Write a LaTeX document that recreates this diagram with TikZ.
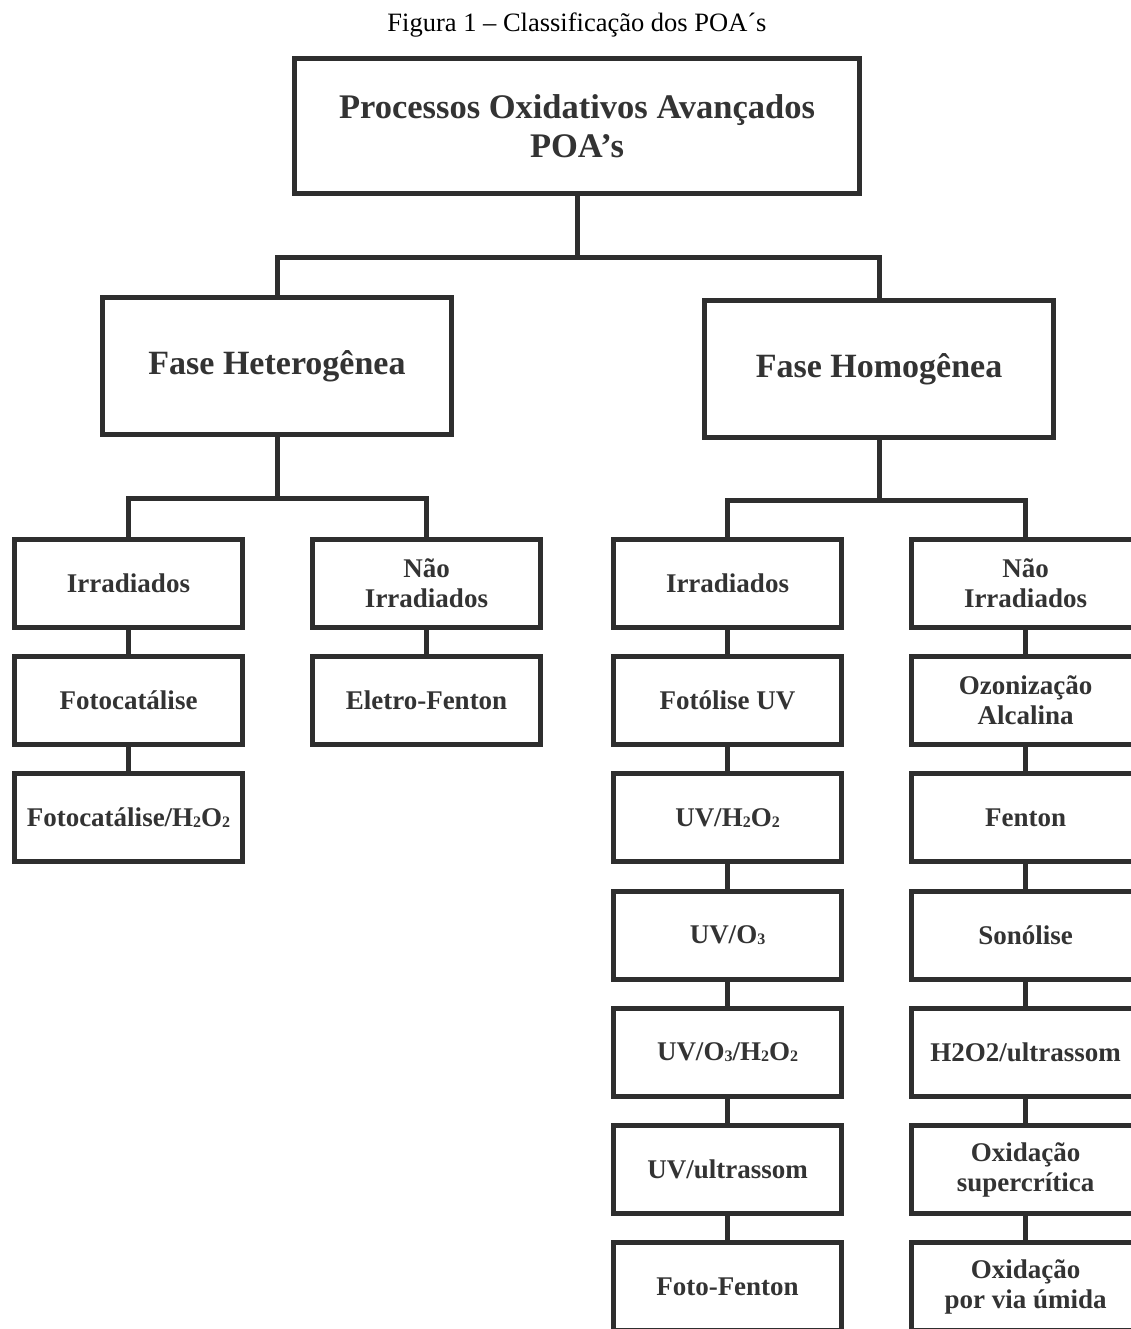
\documentclass[tikz,border=0pt]{standalone}
\usepackage{fontspec}
\setmainfont{Liberation Serif}
\definecolor{linegray}{HTML}{2E2E2E}
\definecolor{textgray}{HTML}{333333}
\newcommand{\idx}[1]{\raisebox{-1pt}{\fontsize{16}{16}\selectfont #1}}
\tikzset{
  box/.style={draw=linegray, line width=5pt, fill=white, align=center,
    text=textgray, inner sep=0pt, minimum width=228pt, minimum height=88pt,
    font=\bfseries\fontsize{27}{30}\selectfont},
  bigbox/.style={box, minimum width=349pt, minimum height=137pt,
    font=\bfseries\fontsize{34}{38}\selectfont},
  conn/.style={draw=linegray, line width=5pt}
}
\begin{document}
\begin{tikzpicture}[x=1pt, y=-1pt]
  \useasboundingbox (0,0) rectangle (1131,1329);
  \clip (0,0) rectangle (1131,1329);

  \node[text=black, font=\fontsize{26.5}{30}\selectfont] (caption) at (577,25) {Figura 1 -- Classificação dos POA´s};

  % top level
  \node[box, minimum width=565pt, minimum height=135pt,
        font=\bfseries\fontsize{34.5}{39}\selectfont] (poa) at (577,126)
        {Processos Oxidativos Avançados\\POA’s};
  \node[bigbox] (het) at (277,366) {Fase Heterogênea};
  \node[bigbox] (hom) at (879,369) {Fase Homogênea};

  % fase heterogenea
  \node[box] (hetirr)  at (128.5,583.5) {Irradiados};
  \node[box] (hetfoto) at (128.5,700.7) {Fotocatálise};
  \node[box] (hetfh)   at (128.5,817.9) {Fotocatálise/H\idx{2}O\idx{2}};
  \node[box] (hetnao)  at (426.5,583.5) {Não\\Irradiados};
  \node[box] (hetelet) at (426.5,700.7) {Eletro-Fenton};

  % fase homogenea, irradiados
  \node[box] (homirr) at (727.5,583.5)  {Irradiados};
  \node[box] (uv)     at (727.5,700.7)  {Fotólise UV};
  \node[box] (uvh)    at (727.5,817.9)  {UV/H\idx{2}O\idx{2}};
  \node[box] (uvo)    at (727.5,935.1)  {UV/O\idx{3}};
  \node[box] (uvoh)   at (727.5,1052.3) {UV/O\idx{3}/H\idx{2}O\idx{2}};
  \node[box] (uvus)   at (727.5,1169.5) {UV/ultrassom};
  \node[box] (fotofe) at (727.5,1286.7) {Foto-Fenton};

  % fase homogenea, nao irradiados
  \node[box] (homnao) at (1025.5,583.5)  {Não\\Irradiados};
  \node[box] (ozon)   at (1025.5,700.7)  {Ozonização\\Alcalina};
  \node[box] (fenton) at (1025.5,817.9)  {Fenton};
  \node[box] (sono)   at (1025.5,935.1)  {Sonólise};
  \node[box] (hous)   at (1025.5,1052.3) {H2O2/ultrassom};
  \node[box] (oxsc)   at (1025.5,1169.5) {Oxidação\\supercrítica};
  \node[box] (oxum)   at (1025.5,1286.7) {Oxidação\\por via úmida};

  % connectors
  \coordinate (poasplit) at (577,258);
  \coordinate (hetsplit) at (277,498);
  \coordinate (homsplit) at (879,500);
  \draw[conn] (poa.south) -- (poasplit);
  \draw[conn] (het.north) |- (poasplit) -| (hom.north);
  \draw[conn] (het.south) -- (hetsplit);
  \draw[conn] (hetirr.north) |- (hetsplit) -| (hetnao.north);
  \draw[conn] (hom.south) -- (homsplit);
  \draw[conn] (homirr.north) |- (homsplit) -| (homnao.north);

  \draw[conn] (hetirr.south) -- (hetfoto.north);
  \draw[conn] (hetfoto.south) -- (hetfh.north);
  \draw[conn] (hetnao.south) -- (hetelet.north);

  \draw[conn] (homirr.south) -- (uv.north);
  \draw[conn] (uv.south) -- (uvh.north);
  \draw[conn] (uvh.south) -- (uvo.north);
  \draw[conn] (uvo.south) -- (uvoh.north);
  \draw[conn] (uvoh.south) -- (uvus.north);
  \draw[conn] (uvus.south) -- (fotofe.north);

  \draw[conn] (homnao.south) -- (ozon.north);
  \draw[conn] (ozon.south) -- (fenton.north);
  \draw[conn] (fenton.south) -- (sono.north);
  \draw[conn] (sono.south) -- (hous.north);
  \draw[conn] (hous.south) -- (oxsc.north);
  \draw[conn] (oxsc.south) -- (oxum.north);
\end{tikzpicture}
\end{document}
